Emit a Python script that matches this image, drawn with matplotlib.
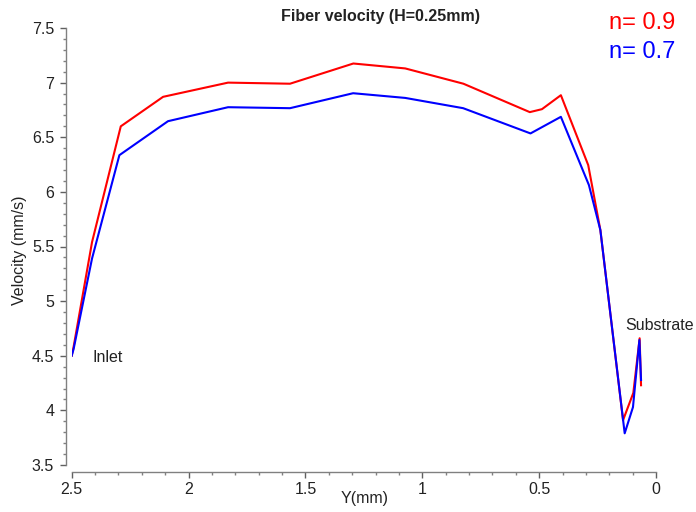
import matplotlib
matplotlib.use("Agg")
import matplotlib.pyplot as plt
from matplotlib.ticker import MultipleLocator, FormatStrFormatter

plt.rcParams['font.family'] = ['Liberation Sans', 'DejaVu Sans']

# Data
x_red = [2.5, 2.492, 2.413, 2.290, 2.109, 1.831, 1.566, 1.295, 1.073,
         0.824, 0.540, 0.488, 0.407, 0.290, 0.238, 0.141, 0.097, 0.070, 0.064]
y_red = [4.50, 4.58, 5.54, 6.60, 6.87, 7.00, 6.99, 7.175, 7.13,
         6.99, 6.73, 6.757, 6.885, 6.245, 5.65, 3.91, 4.16, 4.66, 4.23]

x_blue = [2.5, 2.492, 2.413, 2.296, 2.088, 1.831, 1.566, 1.296, 1.073,
          0.825, 0.537, 0.407, 0.287, 0.238, 0.134, 0.0985, 0.071, 0.064]
y_blue = [4.50, 4.56, 5.39, 6.336, 6.647, 6.775, 6.766, 6.903, 6.86,
          6.766, 6.535, 6.687, 6.062, 5.65, 3.79, 4.03, 4.644, 4.278]

series_labels = ["n= 0.9", "n= 0.7"]
series_colors = ["#ff0000", "#0000ff"]

fig = plt.figure(figsize=(6.96, 5.12), dpi=100)
ax = fig.add_axes([71.7 / 696, 1 - 465 / 512, (656 - 71.7) / 696, (465 - 28) / 512])

ax.plot(x_red, y_red, color=series_colors[0], lw=1.5)
ax.plot(x_blue, y_blue, color=series_colors[1], lw=1.5)

ax.set_xlim(2.5, 0)
ax.set_ylim(3.5, 7.5)

for s in ['top', 'right']:
    ax.spines[s].set_visible(False)
ax.spines['left'].set_position(('outward', 4.1))
ax.spines['bottom'].set_position(('outward', 5))
for s in ['left', 'bottom']:
    ax.spines[s].set_color('#808080')
    ax.spines[s].set_linewidth(1.0)

ax.xaxis.set_major_locator(MultipleLocator(0.5))
ax.xaxis.set_minor_locator(MultipleLocator(0.1))
ax.yaxis.set_major_locator(MultipleLocator(0.5))
ax.yaxis.set_minor_locator(MultipleLocator(0.1))
ax.xaxis.set_major_formatter(FormatStrFormatter('%g'))
ax.yaxis.set_major_formatter(FormatStrFormatter('%g'))

ax.tick_params(which='major', direction='out', length=4.5, width=1, color='#606060',
               labelsize=11.5, labelcolor='#222222')
ax.tick_params(which='minor', direction='out', length=2.5, width=1, color='#808080')
ax.tick_params(axis='y', which='major', pad=4)
ax.tick_params(axis='x', which='major', pad=3)

fig.text(20 / 696, 1 - 250 / 512, "Velocity (mm/s)", rotation=90, ha='center', va='center',
         fontsize=11.5, color='#222222')
fig.text(365 / 696, 1 - 498 / 512, "Y(mm)", ha='center', va='center',
         fontsize=11.5, color='#222222')
fig.text(380 / 696, 1 - 16 / 512, "Fiber velocity (H=0.25mm)", ha='center', va='center',
         fontsize=11.5, fontweight='bold', color='#222222')

fig.text(609 / 696, 1 - 23 / 512, series_labels[0], ha='left', va='center',
         fontsize=17, color=series_colors[0])
fig.text(609 / 696, 1 - 52 / 512, series_labels[1], ha='left', va='center',
         fontsize=17, color=series_colors[1])

fig.text(93 / 696, 1 - 357 / 512, "Inlet", ha='left', va='center', fontsize=11.5, color='#222222')
fig.text(625 / 696, 1 - 326 / 512, "Substrate", ha='left', va='center', fontsize=11.5, color='#222222')

fig.savefig("out.png", dpi=100)
